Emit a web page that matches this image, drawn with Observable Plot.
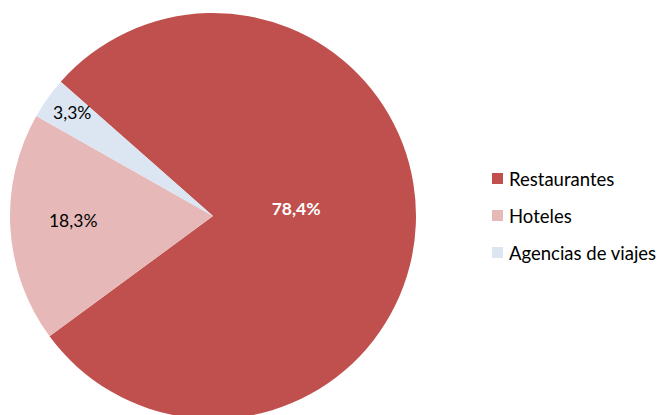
<!DOCTYPE html>
<html><head><meta charset="utf-8">
<script src="https://cdn.jsdelivr.net/npm/d3@7"></script>
<script src="https://cdn.jsdelivr.net/npm/@observablehq/plot@0.6"></script>
<style>
html,body{margin:0;padding:0;background:#fff;}
#wrap{position:relative;width:661px;height:415px;overflow:hidden;font-family:Lato,"Open Sans",sans-serif;}
#legend{position:absolute;left:492px;top:160px;font-size:18.5px;color:#000;}
.item{display:flex;align-items:center;height:37px;}
.sw{width:11px;height:11px;margin-right:6px;}
</style></head>
<body><div id="wrap"><div id="legend"></div></div>
<script>
const categories = ["Restaurantes", "Hoteles", "Agencias de viajes"];
const values = [78.4, 18.3, 3.3];
const labels = ["78,4%", "18,3%", "3,3%"];
const colors = ["#C0504D", "#E6B9B8", "#DCE6F2"];

const data = categories.map((c, i) => ({category: c, value: values[i], label: labels[i]}));

const cx = 213, cy = 216, R = 203;
const labelRatio = [0.41, 0.69, 0.93];
const labelShift = [[0, -11], [0, -3], [13, 6]];
const labelStyle = [
  {fill: "white", weight: "bold"},
  {fill: "black", weight: "normal"},
  {fill: "black", weight: "normal"}
];
const start = -48.6 * Math.PI / 180;

const pieMark = (index, scales) => {
  const pie = d3.pie().value(d => d.value).sort(null).startAngle(start).endAngle(start + 2 * Math.PI);
  const arcs = pie(data);
  const arc = d3.arc().innerRadius(0).outerRadius(R);
  const g = d3.create("svg:g").attr("transform", `translate(${cx},${cy})`);
  g.selectAll("path").data(arcs).join("path")
    .attr("d", arc)
    .attr("fill", d => scales.color(d.data.category));
  g.selectAll("text").data(arcs).join("text")
    .attr("transform", (d, i) => {
      const a = (d.startAngle + d.endAngle) / 2;
      const r = R * labelRatio[i];
      return `translate(${r * Math.sin(a) + labelShift[i][0]},${-r * Math.cos(a) + labelShift[i][1]})`;
    })
    .attr("text-anchor", "middle")
    .attr("dy", "0.35em")
    .attr("font-family", "Lato, 'Open Sans', sans-serif")
    .attr("font-size", 17.5)
    .attr("fill", (d, i) => labelStyle[i].fill)
    .attr("font-weight", (d, i) => labelStyle[i].weight)
    .text(d => d.data.label);
  return g.node();
};

const chart = Plot.plot({
  width: 661,
  height: 415,
  margin: 0,
  x: {axis: null},
  y: {axis: null},
  color: {domain: categories, range: colors},
  marks: [
    Plot.dot(data, {x: () => 0, y: () => 0, r: 0, fill: "category"}),
    pieMark
  ]
});
chart.style.position = "absolute";
chart.style.left = "0";
chart.style.top = "0";
document.getElementById("wrap").prepend(chart);

const colorScale = chart.scale("color");
const legend = d3.select("#legend");
categories.forEach((c) => {
  const it = legend.append("div").attr("class", "item");
  it.append("div").attr("class", "sw").style("background", colorScale.apply(c));
  it.append("span").text(c);
});
</script></body></html>
